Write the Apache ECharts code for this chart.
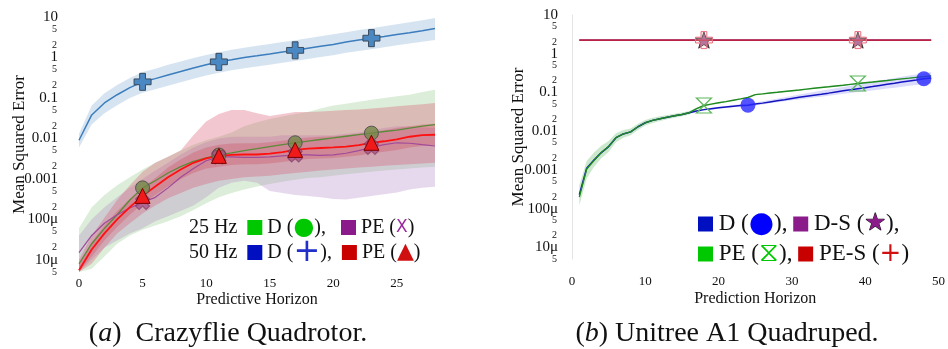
<!DOCTYPE html>
<html>
<head>
<meta charset="utf-8">
<script src="https://cdn.jsdelivr.net/npm/echarts@6/dist/echarts.min.js"></script>
<style>
  html, body { margin: 0; padding: 0; background: #fff; }
  #chart { width: 948px; height: 349px; }
</style>
</head>
<body>
<div id="chart"></div>
<script>
// ---- (a) Crazyflie: horizon steps 0..28
const leftSteps = [0,1,2,3,4,5,6,7,8,9,10,11,12,13,14,15,16,17,18,19,20,21,22,23,24,25,26,27,28];

// 50 Hz D (blue +)
const d50 =   [0.009,0.038,0.075,0.12,0.18,0.25,0.3,0.37,0.45,0.55,0.66,0.78,0.88,1.0,1.1,1.22,1.36,1.5,1.7,1.9,2.1,2.4,2.7,3.0,3.3,3.7,4.1,4.6,5.2];
const d50Lo = [0.006,0.022,0.042,0.066,0.1,0.135,0.165,0.2,0.245,0.3,0.36,0.42,0.48,0.54,0.6,0.66,0.74,0.82,0.92,1.03,1.14,1.3,1.45,1.6,1.8,2.0,2.2,2.45,2.7];
const d50Hi = [0.013,0.065,0.13,0.21,0.31,0.44,0.53,0.66,0.8,0.97,1.15,1.35,1.55,1.75,1.95,2.15,2.4,2.65,3.0,3.35,3.75,4.2,4.8,5.3,5.9,6.6,7.4,8.3,9.5];

// 25 Hz D (green circle)
const d25 =   [8e-6,2.5e-5,6e-5,1.3e-4,3e-4,6e-4,9e-4,1.4e-3,2e-3,2.7e-3,3.3e-3,3.9e-3,4.4e-3,5e-3,5.6e-3,6.3e-3,7e-3,7.8e-3,8.6e-3,9.4e-3,0.0103,0.0113,0.0124,0.0135,0.0148,0.016,0.018,0.02,0.022];
const d25Lo = [3e-6,6e-6,1.2e-5,2.5e-5,4e-5,5.5e-5,7e-5,9e-5,1.2e-4,1.7e-4,2.5e-4,3.5e-4,4.5e-4,5.5e-4,6.5e-4,7.5e-4,8.5e-4,9.5e-4,1.05e-3,1.1e-3,1.2e-3,1.3e-3,1.4e-3,1.5e-3,1.6e-3,1.7e-3,1.8e-3,1.9e-3,2e-3];
const d25Hi = [6e-5,2e-4,4e-4,7e-4,1.1e-3,1.7e-3,2.5e-3,3.5e-3,5e-3,7e-3,9e-3,0.011,0.014,0.02,0.025,0.03,0.035,0.04,0.045,0.055,0.065,0.072,0.08,0.09,0.1,0.11,0.12,0.14,0.16];

// 25 Hz PE (purple X)
const pe25 =   [1.5e-5,4e-5,8e-5,1.3e-4,1.9e-4,2.6e-4,3.5e-4,6e-4,1.1e-3,1.8e-3,2.8e-3,3.5e-3,3.5e-3,3.4e-3,3.4e-3,3.5e-3,3.7e-3,3.9e-3,3.9e-3,3.8e-3,3.9e-3,4.3e-3,5e-3,6e-3,7e-3,7.8e-3,7.6e-3,7e-3,6.5e-3];
const pe25Lo = [5e-6,1e-5,2e-5,3e-5,4.5e-5,6e-5,9e-5,1.2e-4,1.6e-4,2.2e-4,3.5e-4,6e-4,8e-4,9e-4,8e-4,5e-4,4.5e-4,4e-4,3.8e-4,3.5e-4,3.2e-4,3.1e-4,3.4e-4,3.8e-4,4.2e-4,4.6e-4,5.5e-4,6e-4,6.4e-4];
const pe25Hi = [4e-5,1e-4,2e-4,3.5e-4,6e-4,1e-3,1.6e-3,2.5e-3,4e-3,6e-3,8e-3,0.01,0.011,0.011,0.011,0.011,0.012,0.012,0.012,0.012,0.012,0.013,0.014,0.016,0.018,0.02,0.02,0.019,0.018];

// 50 Hz PE (red triangle): wide band and inner band
const pe50 =   [5.5e-6,1.8e-5,4.5e-5,1e-4,2e-4,3.8e-4,6.5e-4,1.1e-3,1.7e-3,2.5e-3,3.2e-3,3.7e-3,3.9e-3,4e-3,4e-3,4.2e-3,4.6e-3,5.2e-3,5.6e-3,5.8e-3,6e-3,6.3e-3,6.8e-3,7.8e-3,8.5e-3,9.5e-3,0.011,0.012,0.0123];
const pe50Lo = [3e-6,8e-6,2e-5,4.5e-5,8e-5,1.4e-4,2.2e-4,3.3e-4,4.5e-4,6e-4,7.5e-4,9e-4,1e-3,1.1e-3,1.15e-3,1.2e-3,1.3e-3,1.4e-3,1.5e-3,1.6e-3,1.7e-3,1.8e-3,1.9e-3,2e-3,2.1e-3,2.2e-3,2.3e-3,2.4e-3,2.5e-3];
const pe50Hi = [1e-5,4e-5,1.1e-4,3e-4,7e-4,1.5e-3,2.5e-3,3.5e-3,5e-3,0.012,0.026,0.04,0.05,0.05,0.042,0.036,0.04,0.045,0.045,0.046,0.048,0.05,0.052,0.055,0.058,0.062,0.066,0.07,0.075];
const pe50InLo = [4e-6,1.2e-5,3e-5,6.5e-5,1.3e-4,2.4e-4,4e-4,6.5e-4,1e-3,1.4e-3,1.8e-3,2e-3,2.2e-3,2.3e-3,2.3e-3,2.4e-3,2.6e-3,2.9e-3,3.1e-3,3.2e-3,3.3e-3,3.5e-3,3.8e-3,4.3e-3,4.7e-3,5.2e-3,6e-3,6.5e-3,6.8e-3];
const pe50InHi = [8e-6,2.7e-5,7e-5,1.6e-4,3.2e-4,6e-4,1.05e-3,1.9e-3,3e-3,4.5e-3,6e-3,7e-3,7.5e-3,7.6e-3,7.6e-3,8e-3,8.8e-3,9.8e-3,0.0105,0.011,0.0113,0.012,0.013,0.0145,0.016,0.018,0.02,0.022,0.023];

const markD50 = [5, 11, 17, 23];
const markD25 = [5, 11, 17, 23];
const markPE25 = [5, 11, 17, 23];
const markPE50 = [5, 11, 17, 23];

// ---- (b) Unitree A1: horizon steps 1..49
const rightSteps = [1,2,3,4,5,6,7,8,9,10,11,12,13,14,15,16,17,18,19,20,21,22,23,24,25,26,27,28,29,30,31,32,33,34,35,36,37,38,39,40,41,42,43,44,45,46,47,48,49];

const rD =   [2.3e-4,1.1e-3,1.8e-3,2.8e-3,4e-3,6.8e-3,8.5e-3,9.6e-3,0.013,0.0165,0.019,0.021,0.023,0.025,0.027,0.03,0.033,0.036,0.038,0.04,0.042,0.044,0.046,0.047,0.05,0.053,0.057,0.061,0.065,0.07,0.075,0.08,0.085,0.09,0.096,0.103,0.11,0.117,0.125,0.133,0.142,0.152,0.162,0.173,0.185,0.197,0.21,0.225,0.235];
const rDLo = [2.2e-4,1.05e-3,1.7e-3,2.7e-3,3.8e-3,6.5e-3,8.1e-3,9.1e-3,0.0124,0.0157,0.018,0.02,0.022,0.0238,0.0257,0.0285,0.031,0.034,0.036,0.038,0.0398,0.0415,0.0432,0.0442,0.0465,0.049,0.0525,0.0555,0.059,0.0625,0.066,0.07,0.074,0.078,0.082,0.087,0.092,0.097,0.102,0.107,0.113,0.12,0.126,0.133,0.14,0.148,0.155,0.163,0.17];
const rDHi = [2.4e-4,1.15e-3,1.9e-3,2.9e-3,4.2e-3,7.1e-3,8.9e-3,0.0101,0.0136,0.0173,0.02,0.022,0.024,0.0262,0.0283,0.0315,0.035,0.038,0.0402,0.0425,0.045,0.0472,0.0495,0.051,0.055,0.059,0.064,0.069,0.075,0.081,0.088,0.095,0.102,0.11,0.119,0.129,0.139,0.15,0.162,0.175,0.188,0.203,0.218,0.235,0.253,0.272,0.292,0.315,0.335];

const rPE =   [2e-4,1.05e-3,1.75e-3,2.8e-3,4e-3,6.8e-3,8.5e-3,9.6e-3,0.013,0.0165,0.019,0.021,0.023,0.025,0.027,0.03,0.038,0.046,0.05,0.054,0.058,0.063,0.068,0.074,0.088,0.092,0.097,0.101,0.106,0.111,0.116,0.122,0.128,0.134,0.14,0.147,0.154,0.162,0.17,0.178,0.186,0.195,0.204,0.214,0.224,0.234,0.245,0.256,0.268];
const rPELo = [1.2e-4,6e-4,1.2e-3,2e-3,2.9e-3,5.2e-3,6.8e-3,7.8e-3,0.0108,0.014,0.0163,0.0182,0.0202,0.0222,0.0242,0.027,0.036,0.044,0.048,0.052,0.056,0.061,0.066,0.072,0.085,0.089,0.094,0.098,0.103,0.108,0.113,0.118,0.124,0.13,0.136,0.143,0.15,0.157,0.165,0.173,0.181,0.19,0.198,0.208,0.218,0.228,0.238,0.249,0.26];
const rPEHi = [4e-4,1.7e-3,2.8e-3,4.2e-3,5.6e-3,8.8e-3,0.0107,0.0118,0.0156,0.0195,0.0222,0.0242,0.0262,0.0282,0.0302,0.0333,0.04,0.048,0.052,0.056,0.06,0.065,0.07,0.076,0.091,0.095,0.1,0.104,0.109,0.114,0.119,0.126,0.132,0.138,0.144,0.151,0.158,0.167,0.175,0.183,0.191,0.2,0.21,0.22,0.23,0.24,0.252,0.263,0.276];

const rDS =  [2.25,2.25,2.25,2.25,2.25,2.25,2.25,2.25,2.25,2.25,2.25,2.25,2.25,2.25,2.25,2.25,2.25,2.25,2.25,2.25,2.25,2.25,2.25,2.25,2.25,2.25,2.25,2.25,2.25,2.25,2.25,2.25,2.25,2.25,2.25,2.25,2.25,2.25,2.25,2.25,2.25,2.25,2.25,2.25,2.25,2.25,2.25,2.25,2.25];
const rPES = [2.25,2.25,2.25,2.25,2.25,2.25,2.25,2.25,2.25,2.25,2.25,2.25,2.25,2.25,2.25,2.25,2.25,2.25,2.25,2.25,2.25,2.25,2.25,2.25,2.25,2.25,2.25,2.25,2.25,2.25,2.25,2.25,2.25,2.25,2.25,2.25,2.25,2.25,2.25,2.25,2.25,2.25,2.25,2.25,2.25,2.25,2.25,2.25,2.25];

const markRD = [24, 48];
const markRPE = [18, 39];
const markRS = [18, 39];

// ---- axes
const yMin = 5e-6, yMax = 10;
const yDecades = [-5, -4, -3, -2, -1, 0, 1];
const yDecadeLabels = ['10μ', '100μ', '0.001', '0.01', '0.1', '1', '10'];
const yMinorMults = [2, 5];
const leftXTicks = [0, 5, 10, 15, 20, 25];
const rightXTicks = [0, 10, 20, 30, 40, 50];

const FONT = 'Liberation Serif';
const logMin = Math.log10(yMin), logMax = Math.log10(yMax);

// label positions (log10 space): decades on one axis, the 2/5 minors on another
const yMajorVals = yDecades.slice();
const yMinorVals = [];
for (let d = yDecades[0] - 1; d <= yDecades[yDecades.length - 1]; d++) {
  yMinorMults.forEach(m => {
    const v = Math.log10(m) + d;
    if (v >= logMin - 1e-9 && v <= logMax + 1e-9) yMinorVals.push(v);
  });
}
const majorLabel = v => yDecadeLabels[yDecades.indexOf(Math.round(v))];
const minorLabel = v => String(Math.round(Math.pow(10, v - Math.floor(v + 1e-6))));

const zip = (xs, ys) => xs.map((x, i) => [x, ys[i]]);

// shaded band: one polygon through upper points then lower points, via the axis scales
function band(name, xs, lo, hi, color, xi) {
  return {
    type: 'custom', name: name, xAxisIndex: xi, yAxisIndex: xi * 3, silent: true, z: 1,
    data: xs.map((x, i) => [x, lo[i], hi[i]]),
    renderItem: (params, api) => {
      if (params.dataIndex !== 0) return null;
      const top = xs.map((x, i) => api.coord([x, Math.min(hi[i], yMax)]));
      const bot = xs.map((x, i) => api.coord([x, Math.max(lo[i], yMin)])).reverse();
      return { type: 'polygon', shape: { points: top.concat(bot) }, style: { fill: color } };
    }
  };
}

function line(name, xs, ys, color, width, xi, mark, symbol, size, itemStyle, extra) {
  return Object.assign({
    type: 'line', name: name, xAxisIndex: xi, yAxisIndex: xi * 3,
    data: zip(xs, ys), showSymbol: true, showAllSymbol: true,
    symbol: symbol, symbolKeepAspect: true,
    symbolSize: (val) => mark.includes(val[0]) ? size : 0,
    lineStyle: { color: color, width: width }, itemStyle: itemStyle, z: 3
  }, extra || {});
}

const plusPath = 'path://M3.3,0H6.7V3.3H10V6.7H6.7V10H3.3V6.7H0V3.3H3.3Z';
const hourglassPath = 'path://M0,0H10L0,10H10Z';
const starPath = 'path://M5,0L6.18,3.45L9.76,3.45L6.9,5.6L7.94,9.05L5,7L2.06,9.05L3.1,5.6L0.24,3.45L3.82,3.45Z';

function logY(gi, axisLine) {
  return { type: 'log', gridIndex: gi, position: 'left', min: yMin, max: yMax,
    axisLine: { show: axisLine, lineStyle: { color: '#e4e4e4', width: 1 } },
    axisTick: { show: false }, axisLabel: { show: false }, splitLine: { show: false } };
}
function labelY(gi, margin, vals, fmt, size, name, nameGap) {
  const ax = { type: 'value', gridIndex: gi, position: 'left', min: logMin, max: logMax,
    axisLine: { show: false }, axisTick: { show: false }, splitLine: { show: false },
    axisLabel: { customValues: vals, margin: margin, formatter: fmt,
      showMinLabel: true, showMaxLabel: true, hideOverlap: false,
      fontFamily: FONT, fontSize: size, color: '#111' } };
  if (name) Object.assign(ax, {
    name: name, nameLocation: 'middle', nameGap: nameGap, nameRotate: 90, nameMoveOverlap: false,
    nameTextStyle: { fontFamily: FONT, fontSize: 17, color: '#111' } });
  return ax;
}
function xAx(gi, max, ticks, name, margin, nameGap) {
  return { type: 'value', gridIndex: gi, min: 0, max: max,
    name: name, nameLocation: 'middle', nameGap: nameGap, nameMoveOverlap: false,
    nameTextStyle: { fontFamily: FONT, fontSize: 16, color: '#111' },
    axisLine: { show: false }, axisTick: { show: false }, splitLine: { show: false },
    axisLabel: { customValues: ticks, margin: margin, fontFamily: FONT, fontSize: 13, color: '#111' } };
}

const series = [
  band('d50', leftSteps, d50Lo, d50Hi, 'rgba(120,165,210,0.3)', 0),
  band('d25', leftSteps, d25Lo, d25Hi, 'rgba(120,190,110,0.26)', 0),
  band('pe25', leftSteps, pe25Lo, pe25Hi, 'rgba(175,130,195,0.3)', 0),
  band('pe50', leftSteps, pe50Lo, pe50Hi, 'rgba(215,85,110,0.33)', 0),
  band('pe50in', leftSteps, pe50InLo, pe50InHi, 'rgba(210,50,70,0.25)', 0),
  line('D 50Hz', leftSteps, d50, '#3b7dbd', 1.5, 0, markD50, plusPath, 17,
    { color: '#4a88c4', borderColor: '#3a4a5c', borderWidth: 1 }),
  line('D 25Hz', leftSteps, d25, '#5a8a3a', 1.3, 0, markD25, 'circle', 14,
    { color: 'rgba(115,135,70,0.8)', borderColor: '#555', borderWidth: 1 }),
  line('PE 25Hz', leftSteps, pe25, '#a04a9a', 1.2, 0, markPE25, plusPath, 15,
    { color: 'rgba(165,80,135,0.75)', borderColor: 'rgba(110,50,90,0.6)', borderWidth: 1 }, { symbolRotate: 45 }),
  line('PE 50Hz', leftSteps, pe50, '#ff1010', 1.8, 0, markPE50, 'triangle', 15,
    { color: '#f01a1a', borderColor: '#7a0000', borderWidth: 1 }),
  band('rPE', rightSteps, rPELo, rPEHi, 'rgba(110,190,110,0.35)', 1),
  band('rD', rightSteps, rDLo, rDHi, 'rgba(90,90,240,0.22)', 1),
  line('D-S', rightSteps, rDS, '#8b2a8b', 1.6, 1, markRS, starPath, 17,
    { color: '#9c5c96', borderColor: '#333', borderWidth: 1 }),
  line('PE-S', rightSteps, rPES, '#c8202e', 1.2, 1, markRS, plusPath, 17,
    { color: 'rgba(255,190,190,0.25)', borderColor: '#e87080', borderWidth: 1 }, { z: 4 }),
  line('D', rightSteps, rD, '#1515c0', 1.5, 1, markRD, 'circle', 15,
    { color: 'rgba(40,40,255,0.8)' }),
  line('PE', rightSteps, rPE, '#1f8a1f', 1.4, 1, markRPE, hourglassPath, 15,
    { color: 'rgba(0,0,0,0)', borderColor: '#5cb85c', borderWidth: 1.2 })
];

const sq = c => ({ width: 15, height: 15, backgroundColor: c });
const txt = (size, extra) => Object.assign({ fontFamily: FONT, fontSize: size, fill: '#111' }, extra || {});

const chart = echarts.init(document.getElementById('chart'), null, { renderer: 'canvas' });
chart.setOption({
  animation: false,
  backgroundColor: '#fff',
  grid: [
    { left: 79, top: 17, width: 356, height: 255 },
    { left: 572, top: 15, width: 370, height: 244 }
  ],
  xAxis: [
    xAx(0, 28, leftXTicks, 'Predictive Horizon', 5, 20),
    xAx(1, 50, rightXTicks, 'Prediction Horizon', 16, 32)
  ],
  yAxis: [
    logY(0, false),
    labelY(0, 21, yMajorVals, majorLabel, 15, 'Mean Squared Error', 51),
    labelY(0, 22, yMinorVals, minorLabel, 10),
    logY(1, true),
    labelY(1, 14, yMajorVals, majorLabel, 15, 'Mean Squared Error', 45),
    labelY(1, 15, yMinorVals, minorLabel, 10)
  ],
  series: series,
  graphic: [
    { type: 'text', left: 189, top: 215, z: 10, style: Object.assign(txt(20), {
      text: '25 Hz  {g| } D ({gm|●}),   {p| } PE ({pm|X})\n50 Hz  {b| } D ({bm|+}),  {r| } PE ({rm|▲})',
      lineHeight: 25,
      rich: {
        g: sq('#00c800'), p: sq('#8b1a8b'), b: sq('#0010c0'), r: sq('#c80000'),
        gm: txt(24, { fill: '#00c800', fontFamily: 'DejaVu Sans' }),
        pm: txt(17, { fill: '#9b2aa0', fontFamily: 'DejaVu Sans' }),
        bm: txt(32, { fill: '#2030c8', fontFamily: 'DejaVu Sans' }),
        rm: txt(22, { fill: '#d01010', fontFamily: 'DejaVu Sans' })
      } }) },
    { type: 'text', left: 698, top: 209, z: 10, style: Object.assign(txt(23), {
      text: '{b| } D ({bm|●}), {p| } D-S ({pm|★}),\n{g| } PE ({gm|⧖}), {r| } PE-S ({rm|+})',
      lineHeight: 30,
      rich: {
        g: sq('#00c800'), p: sq('#8b1a8b'), b: sq('#0010c0'), r: sq('#c80000'),
        bm: txt(29, { fill: '#0000ff', fontFamily: 'DejaVu Sans' }),
        pm: txt(24, { fill: '#8b1a8b', fontFamily: 'DejaVu Sans', stroke: '#111', lineWidth: 1 }),
        gm: txt(28, { fill: '#00c800', fontFamily: 'DejaVu Sans' }),
        rm: txt(26, { fill: '#d01010', fontFamily: 'DejaVu Sans' })
      } }) },
    { type: 'text', style: Object.assign(txt(28), {
      text: '({i|a})  Crazyflie Quadrotor.', x: 228, y: 334, align: 'center', verticalAlign: 'middle',
      rich: { i: txt(28, { fontStyle: 'italic' }) } }) },
    { type: 'text', style: Object.assign(txt(28), {
      text: '({i|b}) Unitree A1 Quadruped.', x: 727, y: 334, align: 'center', verticalAlign: 'middle',
      rich: { i: txt(28, { fontStyle: 'italic' }) } }) }
  ]
});
</script>
</body>
</html>
